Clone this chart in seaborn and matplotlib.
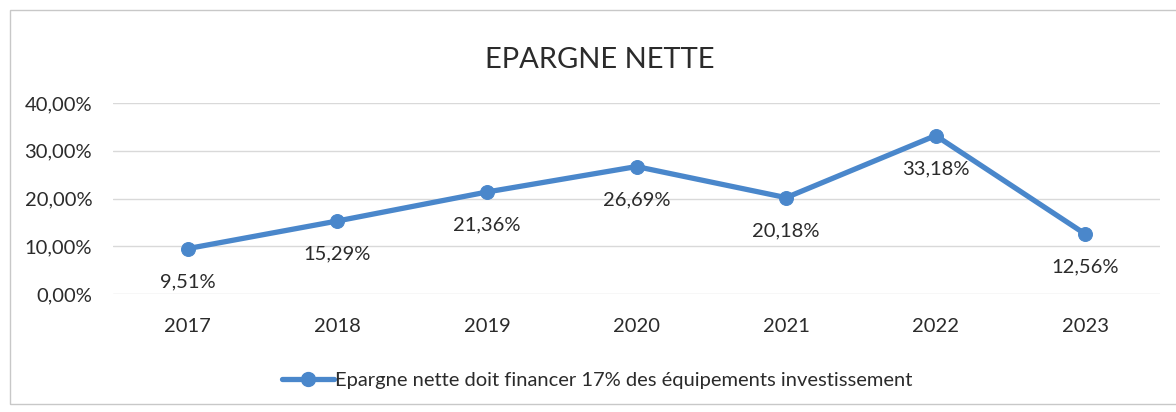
import matplotlib
matplotlib.use("Agg")
import matplotlib.pyplot as plt
import seaborn as sns
import pandas as pd
from matplotlib.patches import Rectangle
from matplotlib.lines import Line2D

sns.set_theme(style="white")
plt.rcParams["font.family"] = ["Lato", "DejaVu Sans"]

# data
years = ["2017", "2018", "2019", "2020", "2021", "2022", "2023"]
epargne = [9.51, 15.29, 21.36, 26.69, 20.18, 33.18, 12.56]
yticks = [0, 10, 20, 30, 40]
series_label = "Epargne nette doit financer 17% des équipements investissement"
title = "EPARGNE NETTE"

df = pd.DataFrame({"annee": years, "taux": epargne})

blue = "#4a87cb"
txt = "#2b2b2b"
fs = 14.5

fig = plt.figure(figsize=(11.76, 4.12), dpi=100)
ax = fig.add_axes([113 / 1176, 1 - 294 / 412, (1160 - 113) / 1176, (294 - 103) / 412])

sns.lineplot(data=df, x="annee", y="taux", ax=ax, color=blue, linewidth=3.8,
             marker="o", markersize=10, markeredgecolor=blue, sort=False)

# data labels under each point
for i, v in enumerate(epargne):
    lab = f"{v:.2f}%".replace(".", ",")
    ax.annotate(lab, (i, v), xytext=(0, -24), textcoords="offset points",
                ha="center", va="center", fontsize=fs, color=txt)

ax.set_xlim(-0.5, len(years) - 0.5)
ax.set_ylim(0, 40)
ax.set_yticks(yticks)
ax.set_yticklabels([f"{t:.2f}%".replace(".", ",") for t in yticks])
ax.grid(axis="y", color="#d9d9d9", linewidth=1)
ax.grid(axis="x", visible=False)
for s in ax.spines.values():
    s.set_visible(False)
ax.tick_params(axis="y", length=0, pad=15, labelsize=fs, labelcolor=txt)
ax.tick_params(axis="x", length=0, pad=17, labelsize=fs, labelcolor=txt)
ax.set_xlabel("")
ax.set_ylabel("")

fig.text(600 / 1176, 1 - 60 / 412, title, ha="center", va="center",
         fontsize=21, color=txt)

handle = Line2D([], [], color=blue, linewidth=3.8, marker="o", markersize=10)
fig.legend([handle], [series_label], loc="center", bbox_to_anchor=(597 / 1176, 1 - 380 / 412),
           frameon=False, fontsize=fs, handlelength=2.6, handletextpad=0.05,
           labelcolor=txt)

fig.patches.append(Rectangle((10 / 1176, 8 / 412), 1.2, 1 - 18 / 412,
                             transform=fig.transFigure, fill=False,
                             edgecolor="#c8c8c8", linewidth=1, figure=fig))

fig.savefig("out.png", dpi=100)
